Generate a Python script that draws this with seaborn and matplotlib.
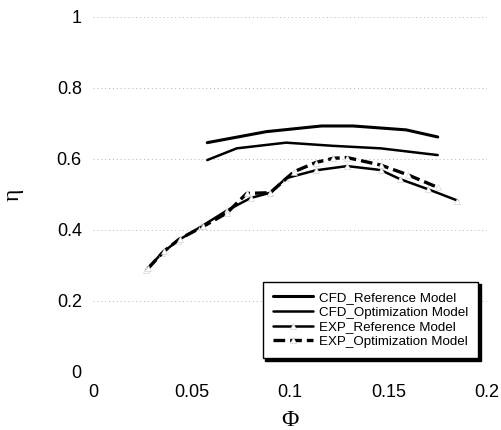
import matplotlib
matplotlib.use("Agg")
import matplotlib.pyplot as plt
import seaborn as sns
import pandas as pd

# Data
cfd_ref_x = [0.058, 0.088, 0.116, 0.132, 0.159, 0.175]
cfd_ref_y = [0.646, 0.677, 0.693, 0.693, 0.682, 0.662]

cfd_opt_x = [0.058, 0.073, 0.098, 0.122, 0.146, 0.175]
cfd_opt_y = [0.597, 0.630, 0.646, 0.637, 0.630, 0.611]

exp_ref_x = [0.027, 0.035, 0.043, 0.055, 0.068, 0.080, 0.090, 0.098, 0.113, 0.129, 0.146, 0.156, 0.170, 0.185]
exp_ref_y = [0.287, 0.335, 0.370, 0.410, 0.455, 0.490, 0.505, 0.546, 0.568, 0.580, 0.569, 0.543, 0.515, 0.483]

exp_opt_x = [0.028, 0.036, 0.044, 0.056, 0.068, 0.078, 0.090, 0.102, 0.113, 0.122, 0.129, 0.146, 0.160, 0.175]
exp_opt_y = [0.292, 0.340, 0.375, 0.410, 0.448, 0.503, 0.505, 0.564, 0.590, 0.602, 0.604, 0.583, 0.555, 0.520]

labels = ["CFD_Reference Model", "CFD_Optimization Model",
          "EXP_Reference Model", "EXP_Optimization Model"]

sns.set_style("white")
plt.rcParams['font.family'] = ['Liberation Sans', 'DejaVu Sans']
plt.rcParams['text.color'] = 'black'
plt.rcParams['axes.labelcolor'] = 'black'
plt.rcParams['xtick.color'] = 'black'
plt.rcParams['ytick.color'] = 'black'

fig = plt.figure(figsize=(5.01, 4.30), dpi=100)
ax = fig.add_axes([0.1856, 0.1349, 0.7864, 0.8256])

df1 = pd.DataFrame({"x": cfd_ref_x, "y": cfd_ref_y})
df2 = pd.DataFrame({"x": cfd_opt_x, "y": cfd_opt_y})
df3 = pd.DataFrame({"x": exp_ref_x, "y": exp_ref_y})
df4 = pd.DataFrame({"x": exp_opt_x, "y": exp_opt_y})

sns.lineplot(data=df1, x="x", y="y", ax=ax, color="black", lw=2.2,
             sort=False, label=labels[0])
sns.lineplot(data=df2, x="x", y="y", ax=ax, color="black", lw=1.8,
             sort=False, label=labels[1])
sns.lineplot(data=df3, x="x", y="y", ax=ax, color="black", lw=1.8,
             sort=False, label=labels[2], marker="^", markersize=4,
             markerfacecolor="white", markeredgecolor="#cccccc",
             markeredgewidth=0.4)
sns.lineplot(data=df4, x="x", y="y", ax=ax, color="black", lw=2.4,
             sort=False, label=labels[3], marker="^", markersize=5,
             markerfacecolor="white", markeredgecolor="#cccccc",
             markeredgewidth=0.4)
ax.lines[-1].set_linestyle((0, (3.5, 1.5)))

ax.set_xlim(0, 0.2)
ax.set_ylim(0, 1)
ax.set_xticks([0, 0.05, 0.1, 0.15, 0.2])
ax.set_xticklabels(["0", "0.05", "0.1", "0.15", "0.2"])
ax.set_yticks([0, 0.2, 0.4, 0.6, 0.8, 1.0])
ax.set_yticklabels(["0", "0.2", "0.4", "0.6", "0.8", "1"])
ax.tick_params(axis="y", labelsize=13, length=0, pad=8)
ax.tick_params(axis="x", labelsize=13, length=0, pad=9)

ax.yaxis.grid(True, color="#b5b5b5", linestyle=(0, (1, 3)), linewidth=0.7)
ax.xaxis.grid(False)
for s in ax.spines.values():
    s.set_visible(False)

ax.set_xlabel("Φ", fontsize=17, family=["Liberation Serif", "DejaVu Serif"], labelpad=6)
ax.set_ylabel("η", fontsize=17, family=["Liberation Serif", "DejaVu Serif"], labelpad=24)

leg = ax.legend(loc="lower right", bbox_to_anchor=(0.977, 0.039),
                fontsize=9.6, frameon=True, fancybox=False,
                shadow={"color": "black", "alpha": 1.0, "ox": 2, "oy": -2},
                handlelength=3.0, handletextpad=0.45, borderpad=0.75,
                labelspacing=0.18, borderaxespad=0)
leg.get_frame().set_edgecolor("black")
leg.get_frame().set_linewidth(1.0)

fig.savefig("out.png", dpi=100)
